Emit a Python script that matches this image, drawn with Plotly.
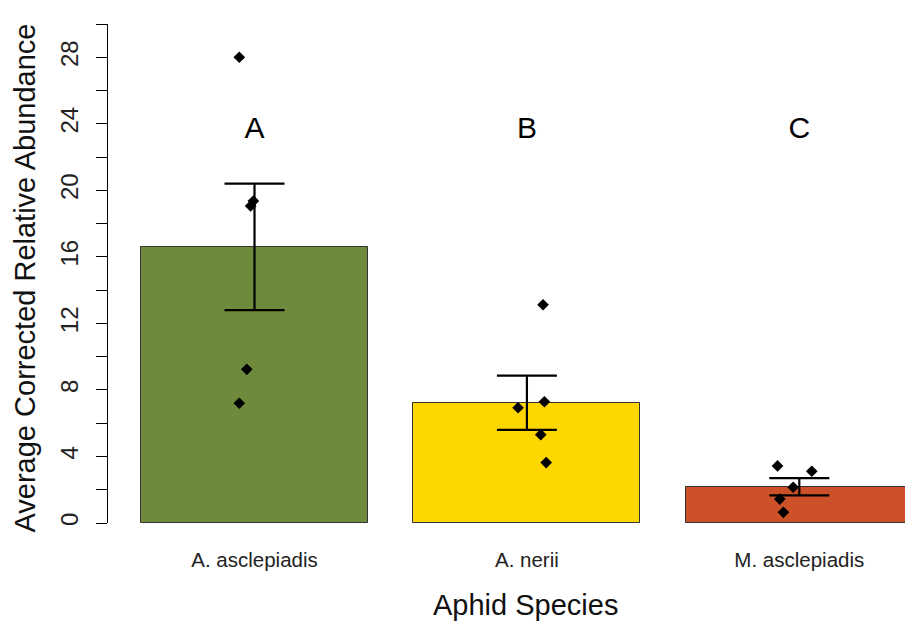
import plotly.graph_objects as go

species = ["A. asclepiadis", "A. nerii", "M. asclepiadis"]
bar_pos = [0.7, 1.9, 3.1]
means = [16.6, 7.23, 2.18]
se = [3.8, 1.63, 0.52]
colors = ["#6E8B3D", "#FFD700", "#CD5128"]
letters = ["A", "B", "C"]
letter_y = 23.6

obs_group = [0, 0, 0, 0, 0, 1, 1, 1, 1, 1, 2, 2, 2, 2, 2]
obs_offset = [-0.067, -0.005, -0.017, -0.034, -0.067,
              0.071, 0.077, -0.039, 0.061, 0.085,
              -0.096, 0.055, -0.027, -0.086, -0.070]
obs_value = [28.0, 19.36, 19.06, 9.24, 7.2,
             13.12, 7.29, 6.93, 5.31, 3.63,
             3.43, 3.11, 2.15, 1.44, 0.64]

y_ticks = list(range(0, 31, 2))
y_ticktext = [str(v) if v % 4 == 0 and v <= 28 else "" for v in y_ticks]

FONT = "Arial, Liberation Sans, sans-serif"

fig = go.Figure()
fig.add_trace(go.Bar(
    x=bar_pos, y=means, width=1,
    marker=dict(color=colors, line=dict(color="#333333", width=1)),
    error_y=dict(type="data", array=se, visible=True, color="black",
                 thickness=2.2, width=30),
    showlegend=False, hoverinfo="skip",
))
fig.add_trace(go.Scatter(
    x=[bar_pos[g] + o for g, o in zip(obs_group, obs_offset)],
    y=obs_value, mode="markers",
    marker=dict(symbol="diamond", size=9, color="black"),
    showlegend=False, cliponaxis=False,
))
fig.add_trace(go.Scatter(
    x=bar_pos, y=[letter_y] * 3, mode="text", text=letters,
    textfont=dict(size=30, color="black", family=FONT),
    showlegend=False, cliponaxis=False,
))

fig.update_layout(
    width=905, height=623,
    margin=dict(l=108, r=0, t=24, b=100),
    paper_bgcolor="white", plot_bgcolor="white",
    font=dict(family=FONT, color="black"),
    bargap=0,
    xaxis=dict(
        range=[0.0546, 3.5656], tickvals=bar_pos, ticktext=species,
        ticks="", showline=False, showgrid=False, zeroline=False,
        tickfont=dict(size=20.5, color="#222222"), ticklabelstandoff=22,
    ),
    yaxis=dict(
        range=[0, 30], tickvals=y_ticks, ticktext=y_ticktext,
        ticks="outside", ticklen=11, tickwidth=1, tickcolor="black",
        showline=True, linecolor="black", linewidth=1,
        showgrid=False, zeroline=False, tickangle=-90,
        tickfont=dict(size=24, color="#222222"), ticklabelstandoff=8,
    ),
    annotations=[
        dict(text="Average Corrected Relative Abundance", xref="paper", yref="paper",
             x=-83 / 797, y=0.49, xanchor="center", yanchor="middle", textangle=-90,
             showarrow=False, font=dict(size=29, color="#111111", family=FONT)),
        dict(text="Aphid Species", xref="paper", yref="paper",
             x=(525 - 108) / 797, y=-(605 - 523) / 499, xanchor="center", yanchor="middle",
             showarrow=False, font=dict(size=29, color="#111111", family=FONT)),
    ],
)

fig.write_html("out.html",
               config={"displayModeBar": False},
               post_script="document.body.style.margin='0';document.body.style.overflow='hidden';")
